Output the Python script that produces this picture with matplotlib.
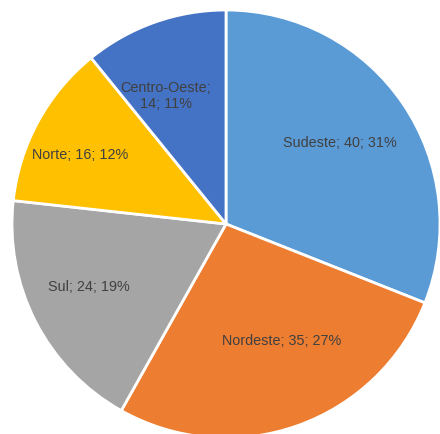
import numpy as np
import matplotlib.pyplot as plt

regions = ["Sudeste", "Nordeste", "Sul", "Norte", "Centro-Oeste"]
counts = [40, 35, 24, 16, 14]
label_text = ["Sudeste; 40; 31%", "Nordeste; 35; 27%", "Sul; 24; 19%",
              "Norte; 16; 12%", "Centro-Oeste;\n14; 11%"]
colors = ["#5B9BD5", "#ED7D31", "#A5A5A5", "#FFC000", "#4472C4"]
# label placement: radius (fraction of pie radius) and angular nudge in degrees
label_r = [0.656, 0.60, 0.703, 0.757, 0.665]
label_nudge = [1.5, 5.9, -2.9, 3.0, 5.6]

plt.rcParams["font.family"] = ["Liberation Sans", "DejaVu Sans"]

fig = plt.figure(figsize=(4.4, 4.35), dpi=100)
ax = fig.add_axes([12 / 440, (435 - 225 - 214) / 435, 428 / 440, 428 / 435])

wedges, _ = ax.pie(counts, colors=colors, startangle=90, counterclock=False,
                   wedgeprops=dict(edgecolor="white", linewidth=2))

for w, txt, r, nd in zip(wedges, label_text, label_r, label_nudge):
    ang = np.deg2rad((w.theta1 + w.theta2) / 2 + nd)
    ax.text(r * np.cos(ang), r * np.sin(ang), txt, ha="center", va="center",
            fontsize=10.4, color="#404040", linespacing=1.2)

ax.set_xlim(-1, 1)
ax.set_ylim(-1, 1)
ax.set_aspect("auto")
ax.axis("off")

fig.savefig("out.png", dpi=100)
